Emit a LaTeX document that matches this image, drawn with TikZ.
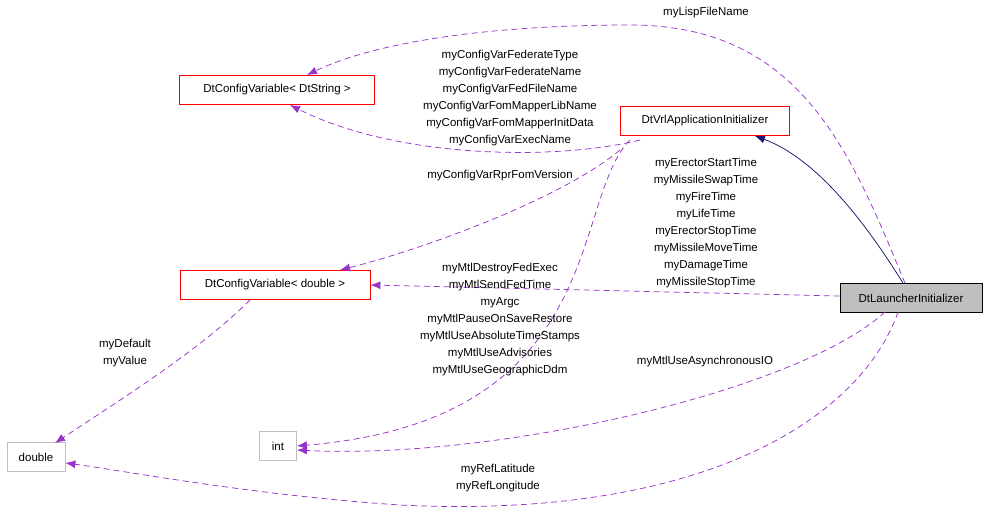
\documentclass[tikz,border=0pt]{standalone}
\usepackage{fontspec}
\setmainfont{Liberation Sans}
\usetikzlibrary{arrows.meta,calc}
\begin{document}
\tikzset{every picture/.style={line width=0.75pt}}
\tikzset{
  cls/.style={draw={rgb,255:red,255;green,0;blue,0}, fill=white, inner sep=0pt, minimum height=29, font=\fontsize{11.5}{13}\selectfont},
  prim/.style={cls, draw={rgb,255:red,191;green,191;blue,191}},
  focus/.style={cls, draw=black, fill={rgb,255:red,191;green,191;blue,191}},
  uses/.style={draw={rgb,255:red,153;green,50;blue,204}, dash pattern={on 6pt off 4pt}, -{Latex[length=10pt,width=8pt]}},
  inh/.style={draw={rgb,255:red,25;green,25;blue,112}, -{Latex[length=10pt,width=8pt]}},
  lbl/.style={align=center, inner sep=0pt, font=\fontsize{11.5}{17}\selectfont}
}
\begin{tikzpicture}[x=1pt,y=-1pt]
        \useasboundingbox (0,0) rectangle (987,513);

        % classes
        \node [cls, minimum width=195] (str) at (277,90) {DtConfigVariable< DtString >};
        \node [cls, minimum width=169] (vrl) at (705,121) {DtVrlApplicationInitializer};
        \node [cls, minimum width=190] (dbl) at (275,285) {DtConfigVariable< double >};
        \node [focus, minimum width=142] (lau) at (911,298) {DtLauncherInitializer};
        \node [prim, minimum width=58] (double) at (36,457) {double};
        \node [prim, minimum width=37] (int) at (278,446) {int};

        % edges
        \draw [inh] ($(lau.north)+(-8,0)$) .. controls (870,230) and (820,160) .. ($(vrl.south east)+(-35,0)$);
        \draw [uses] ($(lau.north)+(-6,0)$) .. controls (850,150) and (800,25) .. (630,25) .. controls (500,25) and (380,40) .. (307,75);
        \draw [uses] (640,140) .. controls (560,160) and (400,160) .. (290,105);
        \draw [uses] (620,150) .. controls (560,200) and (420,250) .. (340,270);
        \draw [uses] ($(lau.west)+(0,-2)$) -- (dbl.east);
        \draw [uses] (250,300) .. controls (200,350) and (120,400) .. (55,443);
        \draw [uses] (630,140) .. controls (570,200) and (610,420) .. (int.east);
        \draw [uses] (885,312) .. controls (800,390) and (500,460) .. ($(int.east)+(0,4)$);
        \draw [uses] (898,312) .. controls (860,420) and (700,520) .. (400,505) .. controls (250,495) and (120,470) .. ($(double.east)+(0,6)$);

        % labels
        \node [lbl] (l1) at (706,13) {myLispFileName};
        \node [lbl] (l2) at (510,98) {myConfigVarFederateType\\myConfigVarFederateName\\myConfigVarFedFileName\\myConfigVarFomMapperLibName\\myConfigVarFomMapperInitData\\myConfigVarExecName};
        \node [lbl] (l3) at (500,176) {myConfigVarRprFomVersion};
        \node [lbl] (l4) at (706,223) {myErectorStartTime\\myMissileSwapTime\\myFireTime\\myLifeTime\\myErectorStopTime\\myMissileMoveTime\\myDamageTime\\myMissileStopTime};
        \node [lbl] (l5) at (500,320) {myMtlDestroyFedExec\\myMtlSendFedTime\\myArgc\\myMtlPauseOnSaveRestore\\myMtlUseAbsoluteTimeStamps\\myMtlUseAdvisories\\myMtlUseGeographicDdm};
        \node [lbl] (l6) at (125,353) {myDefault\\myValue};
        \node [lbl] (l7) at (705,362) {myMtlUseAsynchronousIO};
        \node [lbl] (l8) at (498,478) {myRefLatitude\\myRefLongitude};
\end{tikzpicture}
\end{document}
